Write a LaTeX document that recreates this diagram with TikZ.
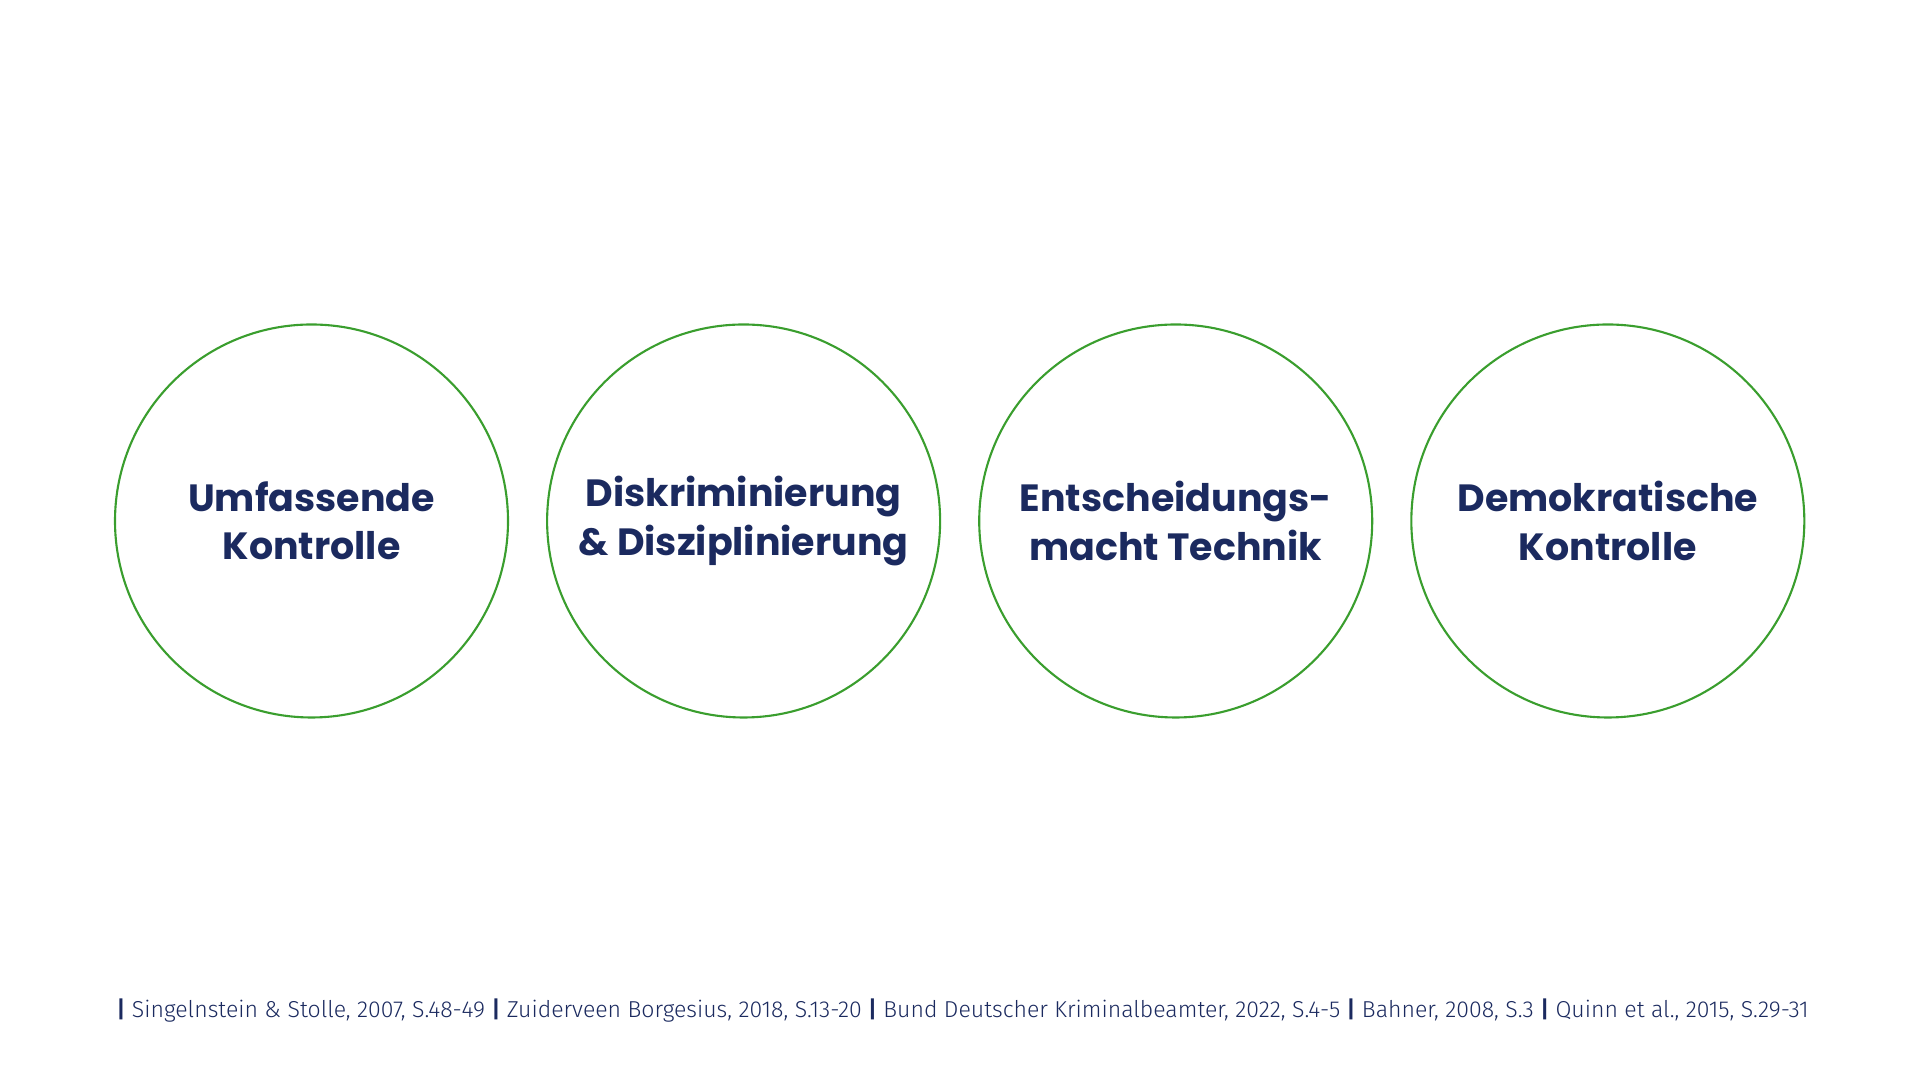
\documentclass[tikz,border=0pt]{standalone}
\usepackage{fontspec}
\setmainfont{Poppins}
\newfontfamily\footfont{Fira Sans Light}
\usetikzlibrary{positioning}
\definecolor{navy}{HTML}{1B2A5F}
\definecolor{leafgreen}{HTML}{3A9E2E}
\tikzset{
  topic/.style={circle, draw=leafgreen, line width=0.6pt, minimum size=3.93cm,
    inner sep=0pt, align=center, text=navy, font=\fontsize{10.8}{13.7}\selectfont\bfseries},
  sources/.style={anchor=west, inner sep=0pt, text=navy, font=\footfont\fontsize{6.56}{7}\selectfont}
}
\begin{document}
\begin{tikzpicture}
        \useasboundingbox (0,0) rectangle (19.2,10.8);
        \node [topic] (1) at (3.115,5.59) {Umfassende\\Kontrolle};
        \node [topic, right=0.37cm of 1] (2) {Diskriminierung\\\& Disziplinierung};
        \node [topic, right=0.37cm of 2] (3) {Entscheidungs-\\macht Technik};
        \node [topic, right=0.37cm of 3] (4) {Demokratische\\Kontrolle};
        \node [sources] (5) at (1.16,0.69) {{\bfseries|} Singelnstein \& Stolle, 2007, S.48-49 {\bfseries|} Zuiderveen Borgesius, 2018, S.13-20 {\bfseries|} Bund Deutscher Kriminalbeamter, 2022, S.4-5 {\bfseries|} Bahner, 2008, S.3 {\bfseries|} Quinn et al., 2015, S.29-31};
      \end{tikzpicture}
\end{document}
